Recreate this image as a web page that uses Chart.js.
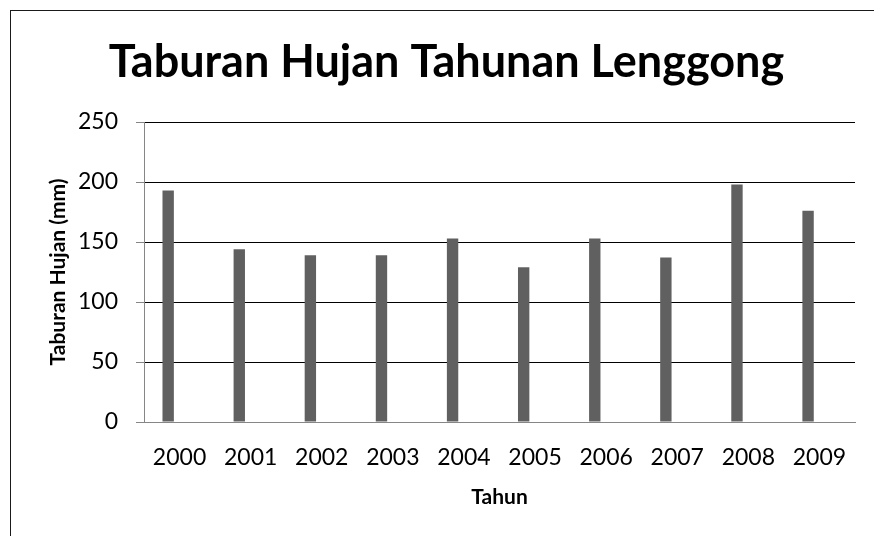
<!DOCTYPE html>
<html>
<head>
<meta charset="utf-8">
<script src="https://cdn.jsdelivr.net/npm/chart.js@4.4.1/dist/chart.umd.min.js"></script>
<style>
  html, body { margin: 0; padding: 0; background: #fff; overflow: hidden; }
  #wrap { position: relative; width: 874px; height: 536px; overflow: hidden; }
  #frame { position: absolute; left: 10px; top: 10px; width: 864px; height: 526px; border-left: 1px solid #1a1a1a; border-top: 1px solid #1a1a1a; }
  canvas { position: absolute; left: 0; top: 0; }
</style>
</head>
<body>
<div id="wrap">
  <div id="frame"></div>
  <canvas id="chart" width="874" height="536"></canvas>
</div>
<script>
// Data carta
const tahun = ['2000', '2001', '2002', '2003', '2004', '2005', '2006', '2007', '2008', '2009'];
const hujan = [193, 144, 139, 139, 153, 129, 153, 137, 198, 176];
const yTicks = [0, 50, 100, 150, 200, 250];

const tajuk = 'Taburan Hujan Tahunan Lenggong';
const tajukY = 'Taburan Hujan (mm)';
const tajukX = 'Tahun';

const ctx = document.getElementById('chart').getContext('2d');

new Chart(ctx, {
  type: 'bar',
  data: {
    labels: tahun,
    datasets: [
      { label: 'Hujan', data: hujan, backgroundColor: '#606060', borderWidth: 0 },
      // siri kosong dalam carta asal
      { label: '', data: [], backgroundColor: '#606060' },
      { label: '', data: [], backgroundColor: '#606060' }
    ]
  },
  options: {
    responsive: false,
    animation: false,
    events: [],
    categoryPercentage: 0.48,
    barPercentage: 1,
    layout: { padding: { left: 38, right: 19, top: 0, bottom: 0 } },
    plugins: {
      legend: { display: false },
      tooltip: { enabled: false },
      title: {
        display: true,
        text: tajuk,
        color: '#000',
        font: { family: 'Lato', size: 45, weight: 'bold' },
        padding: { top: 35, bottom: 33 }
      }
    },
    scales: {
      x: {
        grid: { display: false, drawTicks: false },
        border: { display: true, color: '#868686', width: 1 },
        ticks: {
          color: '#000',
          font: { family: 'Lato', size: 23 },
          padding: 22,
          maxRotation: 0,
          autoSkip: false
        },
        title: {
          display: true,
          text: tajukX,
          color: '#000',
          font: { family: 'Lato', size: 21, weight: 'bold' },
          padding: { top: 0, bottom: 26 }
        },
        afterFit: (scale) => { scale.height = 114; }
      },
      y: {
        min: 0,
        max: 250,
        afterBuildTicks: (scale) => { scale.ticks = yTicks.map(v => ({ value: v })); },
        grid: { color: '#000', lineWidth: 1, tickLength: 8, tickColor: '#868686' },
        border: { display: true, color: '#868686', width: 1 },
        ticks: {
          color: '#000',
          font: { family: 'Lato', size: 23 },
          padding: 18
        },
        title: {
          display: true,
          text: tajukY,
          color: '#000',
          font: { family: 'Lato', size: 21, weight: 'bold' },
          padding: { top: 8, bottom: 0 }
        },
        afterFit: (scale) => { scale.width = 106; }
      }
    }
  }
});
</script>
</body>
</html>
